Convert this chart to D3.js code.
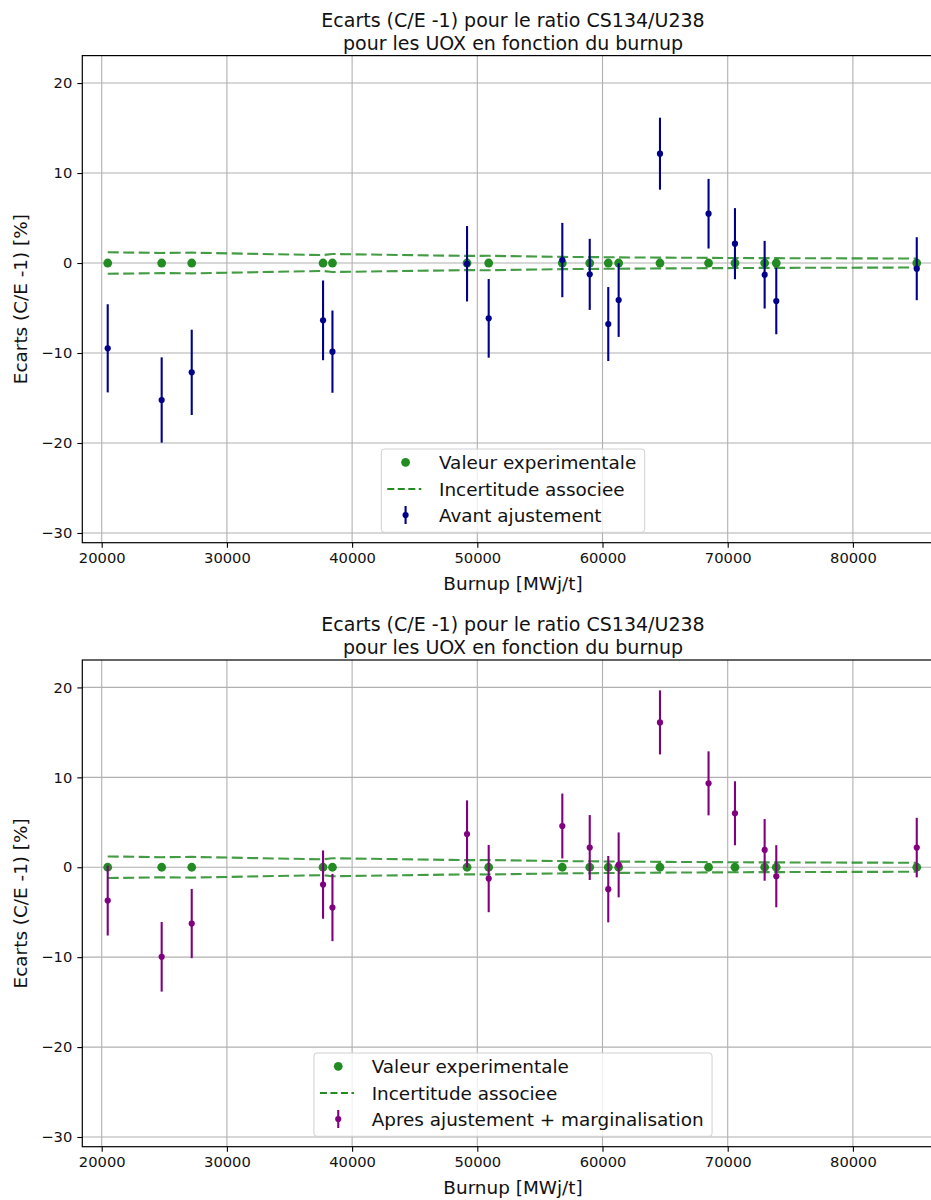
<!DOCTYPE html>
<html>
<head>
<meta charset="utf-8">
<script src="https://cdn.jsdelivr.net/npm/d3@7"></script>
<style>
  html, body { margin: 0; padding: 0; background: #fff; overflow: hidden; }
  svg { display: block; font-family: "DejaVu Sans", sans-serif; }
</style>
</head>
<body>
<svg id="chart" width="931" height="1200"></svg>
<script>
// ---------------- DATA ----------------
const burnup = [20480, 24790, 27190, 37680, 38430, 49180, 50910, 56790, 58980, 60460, 61290, 64590, 68470, 70580, 72950, 73880, 85100];
const experimental = [0, 0, 0, 0, 0, 0, 0, 0, 0, 0, 0, 0, 0, 0, 0, 0, 0];
const uncertainty = [1.2, 1.12, 1.15, 0.88, 1.0, 0.79, 0.8, 0.68, 0.66, 0.64, 0.63, 0.6, 0.57, 0.56, 0.54, 0.54, 0.5];
const beforeValues = [-9.48, -15.22, -12.15, -6.37, -9.85, -0.08, -6.15, 0.33, -1.26, -6.78, -4.11, 12.15, 5.48, 2.15, -1.3, -4.22, -0.63];
const beforeErrors = [4.9, 4.74, 4.74, 4.43, 4.57, 4.19, 4.37, 4.13, 3.95, 4.11, 4.1, 4.0, 3.87, 3.95, 3.76, 3.7, 3.5];
const afterValues = [-3.7, -9.96, -6.26, -1.93, -4.48, 3.7, -1.26, 4.59, 2.19, -2.44, 0.26, 16.11, 9.33, 6.0, 1.93, -1.0, 2.19];
const afterErrors = [3.89, 3.87, 3.85, 3.8, 3.74, 3.74, 3.74, 3.61, 3.61, 3.69, 3.61, 3.56, 3.56, 3.56, 3.43, 3.45, 3.31];
const xTicks = [20000, 30000, 40000, 50000, 60000, 70000, 80000];
const yTicks = [-30, -20, -10, 0, 10, 20];
const titleLines = ["Ecarts (C/E -1) pour le ratio CS134/U238", "pour les UOX en fonction du burnup"];
const xLabel = "Burnup [MWj/t]";
const yLabel = "Ecarts (C/E -1) [%]";
const legendLabels = ["Valeur experimentale", "Incertitude associee"];
const panelSeries = [
  { label: "Avant ajustement", values: beforeValues, errors: beforeErrors, color: "#00008B" },
  { label: "Apres ajustement + marginalisation", values: afterValues, errors: afterErrors, color: "#800080" }
];

// ---------------- LAYOUT ----------------
const svg = d3.select("#chart");
const plotLeft = 82.3, plotRight = 943.7;
const panels = [{ top: 55.6, bottom: 542.7 }, { top: 660, bottom: 1146.7 }];
const green = "#228B22";
const x = d3.scaleLinear().domain([18450, 87252]).range([plotLeft, plotRight]);

panels.forEach((p, pi) => {
  const s = panelSeries[pi];
  const y = d3.scaleLinear().domain([-31.08, 23.05]).range([p.bottom, p.top]);
  const g = svg.append("g");
  const cx = (plotLeft + plotRight) / 2;

  // grid
  g.append("g").selectAll("line").data(xTicks).join("line")
    .attr("x1", d => x(d)).attr("x2", d => x(d))
    .attr("y1", p.top).attr("y2", p.bottom)
    .attr("stroke", "#b0b0b0").attr("stroke-width", 1.1);
  g.append("g").selectAll("line").data(yTicks).join("line")
    .attr("x1", plotLeft).attr("x2", plotRight)
    .attr("y1", d => y(d)).attr("y2", d => y(d))
    .attr("stroke", "#b0b0b0").attr("stroke-width", 1.1);

  // axes
  const xAxis = g.append("g").attr("transform", `translate(0,${p.bottom})`)
    .call(d3.axisBottom(x).tickValues(xTicks).tickFormat(d3.format("d")).tickSize(5).tickPadding(5));
  const yAxis = g.append("g").attr("transform", `translate(${plotLeft},0)`)
    .call(d3.axisLeft(y).tickValues(yTicks).tickSize(5).tickPadding(5));
  [xAxis, yAxis].forEach(a => {
    a.select(".domain").remove();
    a.selectAll(".tick line").attr("stroke", "#000").attr("stroke-width", 1.1);
    a.selectAll(".tick text").attr("font-size", 14.7).attr("fill", "#111").attr("font-family", "DejaVu Sans");
  });

  // frame
  g.append("rect").attr("x", plotLeft).attr("y", p.top)
    .attr("width", plotRight - plotLeft).attr("height", p.bottom - p.top)
    .attr("fill", "none").attr("stroke", "#000").attr("stroke-width", 1.2);

  // experimental dots
  g.append("g").selectAll("circle").data(burnup).join("circle")
    .attr("cx", d => x(d)).attr("cy", (d, i) => y(experimental[i])).attr("r", 4.4)
    .attr("fill", green);

  // uncertainty dashed lines
  const upper = d3.line().x(d => x(d)).y((d, i) => y(experimental[i] + uncertainty[i]));
  const lower = d3.line().x(d => x(d)).y((d, i) => y(experimental[i] - uncertainty[i]));
  [upper, lower].forEach(l => {
    g.append("path").datum(burnup).attr("d", l)
      .attr("fill", "none").attr("stroke", green).attr("stroke-width", 2.1)
      .attr("stroke-opacity", 0.85).attr("stroke-dasharray", "11,4.5");
  });

  // error bars
  const eb = g.append("g");
  eb.selectAll("line").data(burnup).join("line")
    .attr("x1", d => x(d)).attr("x2", d => x(d))
    .attr("y1", (d, i) => y(s.values[i] + s.errors[i]))
    .attr("y2", (d, i) => y(s.values[i] - s.errors[i]))
    .attr("stroke", s.color).attr("stroke-width", 2.1);
  eb.selectAll("circle").data(burnup).join("circle")
    .attr("cx", d => x(d)).attr("cy", (d, i) => y(s.values[i])).attr("r", 3.1)
    .attr("fill", s.color);

  // titles
  titleLines.forEach((t, k) => {
    g.append("text").attr("x", cx).attr("y", p.top - 28.9 + k * 23.3)
      .attr("text-anchor", "middle").attr("font-size", 19).attr("fill", "#111").text(t);
  });
  g.append("text").attr("x", cx).attr("y", p.bottom + 47.3)
    .attr("text-anchor", "middle").attr("font-size", 18.4).attr("fill", "#111").text(xLabel);
  g.append("text")
    .attr("transform", `translate(26.5,${(p.top + p.bottom) / 2}) rotate(-90)`)
    .attr("text-anchor", "middle").attr("font-size", 18.4).attr("fill", "#111").text(yLabel);

  // legend
  const labels = [legendLabels[0], legendLabels[1], s.label];
  const lg = g.append("g");
  const box = lg.append("rect");
  const texts = labels.map((t, k) => lg.append("text").attr("font-size", 18.4).attr("fill", "#111").text(t));
  const maxW = d3.max(texts, t => t.node().getComputedTextLength());
  const boxW = 57.7 + maxW + 8.5;
  const boxH = 83.3;
  const bx = cx - boxW / 2;
  const by = p.bottom - 10.4 - boxH;
  box.attr("x", bx).attr("y", by).attr("width", boxW).attr("height", boxH).attr("rx", 3)
    .attr("fill", "#fff").attr("fill-opacity", 0.8).attr("stroke", "#d0d0d0").attr("stroke-width", 1);
  const rowY = [by + 13.3, by + 40, by + 66];
  texts.forEach((t, k) => t.attr("x", bx + 57.7).attr("y", rowY[k] + 6.6));
  const hx = bx + 24.3;
  lg.append("circle").attr("cx", hx).attr("cy", rowY[0]).attr("r", 4.4).attr("fill", green);
  lg.append("line").attr("x1", bx + 6).attr("x2", bx + 40).attr("y1", rowY[1]).attr("y2", rowY[1])
    .attr("stroke", green).attr("stroke-width", 2.1).attr("stroke-dasharray", "7,3.5");
  lg.append("line").attr("x1", hx).attr("x2", hx).attr("y1", rowY[2] - 9).attr("y2", rowY[2] + 9)
    .attr("stroke", s.color).attr("stroke-width", 2.1);
  lg.append("circle").attr("cx", hx).attr("cy", rowY[2]).attr("r", 3.1).attr("fill", s.color);
});
</script>
</body>
</html>
